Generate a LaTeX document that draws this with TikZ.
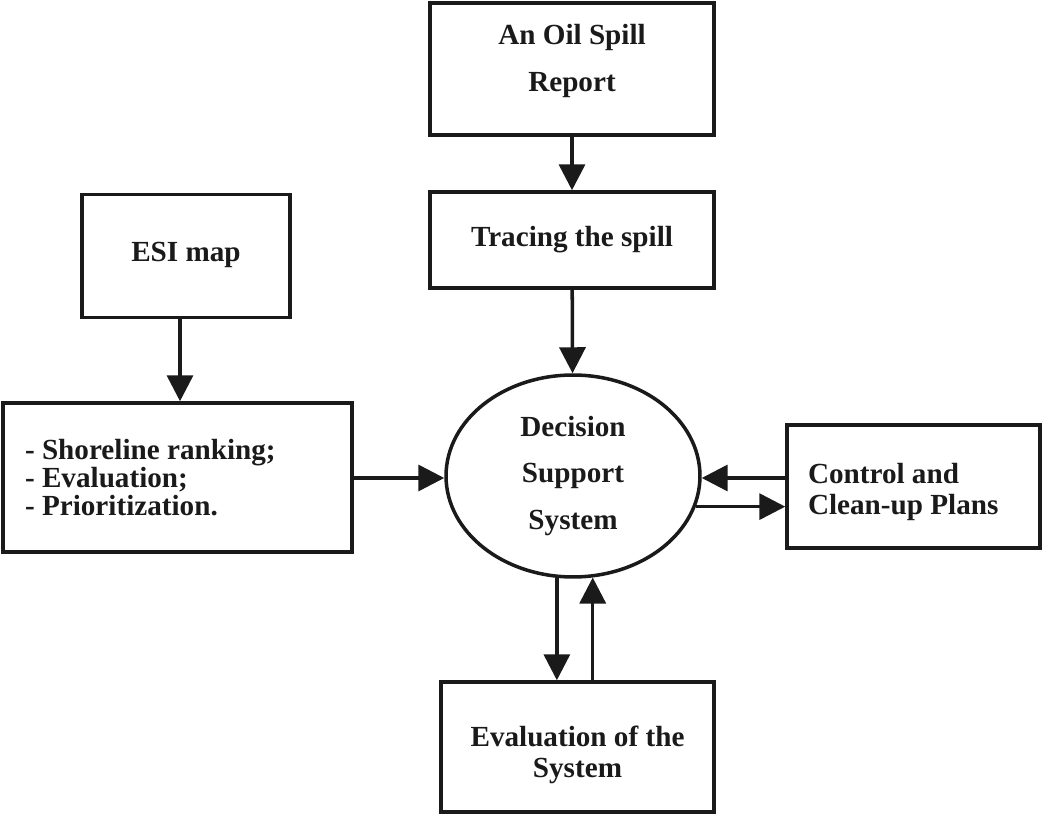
\documentclass[tikz,border=0pt]{standalone}
\usepackage{fontspec}
\setmainfont{Liberation Serif}
\usepackage{xcolor}
\usepackage{tikz}
\usetikzlibrary{shapes.geometric,arrows.meta,positioning,calc}
\definecolor{ink}{HTML}{1a1a1a}

\begin{document}
\begin{tikzpicture}[x=0.02cm, y=-0.02cm,
    box/.style={rectangle, draw=ink, line width=2pt, text=ink,
                align=center, inner sep=0pt,
                font=\bfseries\fontsize{16.6}{17.9}\selectfont},
    wide/.style={font=\bfseries\fontsize{16.6}{26.5}\selectfont},
    flow/.style={draw=ink, line width=2pt,
                 -{Triangle[length=0.52cm,width=0.52cm]}},
]
\useasboundingbox (0,0) rectangle (1042,817);

\node[box,wide,minimum width=5.68cm,minimum height=2.64cm,text depth=0.45cm] (rep) at (572,69) {An Oil Spill\\Report};
\node[box,minimum width=5.68cm,minimum height=1.92cm] (trc) at (572,240) {Tracing the spill};
\node[box,minimum width=4.16cm,minimum height=2.46cm,text depth=0.18cm] (esi) at (186,256) {ESI map};
\node[box,minimum width=6.98cm,minimum height=2.98cm,align=flush left,text width=6.1cm,
      font=\bfseries\fontsize{16.6}{15.9}\selectfont] (shr) at (177.5,477.5)
      {- Shoreline ranking;\\- Evaluation;\\- Prioritization.};
\node[box,ellipse,wide,minimum width=5.08cm,minimum height=4.04cm] (dss) at (573,476) {Decision\\Support\\System};
\node[box,minimum width=5.06cm,minimum height=2.46cm,align=flush left,text width=4.22cm,
      text height=0.63cm] (ctl) at (913.5,486.5) {Control and\\Clean-up Plans};
\node[box,minimum width=5.46cm,minimum height=2.6cm,text height=1.36cm] (evl) at (577.5,747) {Evaluation of the\\System};

\coordinate (c1) at ($(ctl.west)+(0,-8.5)$);

\draw[flow] (rep) -- (trc);
\draw[flow] (trc) -- (dss);
\draw[flow] (esi.south -| 180,0) -- (shr.north -| 180,0);
\draw[flow] (shr.east |- 0,478) -- (dss.west |- 0,478);
\draw[flow] (c1) -- (c1 -| dss.east);
\draw[flow] (dss.-14) -- (dss.-14 -| ctl.west);
\draw[flow] (dss.-99) -- (dss.-99 |- evl.north);
\draw[flow] (evl.north -| dss.-79) -- (dss.-79);
\end{tikzpicture}
\end{document}
